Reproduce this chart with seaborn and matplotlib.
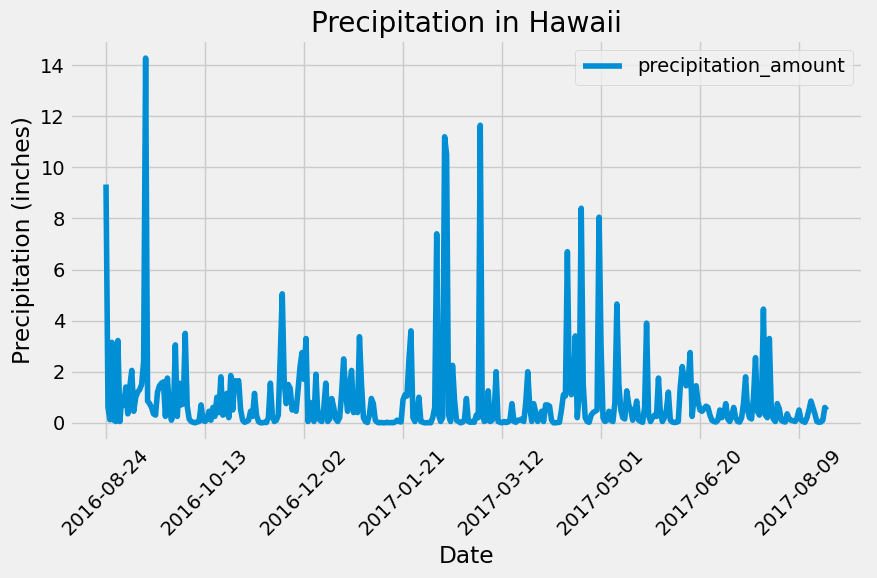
import numpy as np
import pandas as pd
import matplotlib
matplotlib.use("Agg")
import matplotlib.pyplot as plt
import seaborn as sns

plt.style.use("fivethirtyeight")

start_date = "2016-08-24"
series_name = "precipitation_amount"
precip = [
    9.33, 0.6, 0.12, 3.15, 0.1, 0.05, 3.22, 0.05, 1.0, 0.7,
    1.4, 0.35, 1.4, 2.05, 0.45, 1.0, 1.2, 1.3, 1.5, 2.4,
    14.28, 0.85, 0.75, 0.6, 0.35, 0.3, 1.2, 1.45, 1.55, 1.6,
    0.25, 1.75, 0.6, 0.1, 0.3, 3.05, 0.25, 1.55, 0.7, 0.75,
    3.5, 0.65, 0.15, 0.05, 0.02, 0.0, 0.03, 0.05, 0.7, 0.1,
    0.05, 0.15, 0.45, 0.1, 0.6, 0.25, 1.0, 0.4, 1.8, 0.3,
    0.35, 1.15, 0.2, 1.85, 0.5, 1.65, 1.6, 1.65, 0.5, 0.1,
    0.02, 0.05, 0.1, 0.45, 0.25, 1.15, 0.3, 0.05, 0.0, 0.0,
    0.02, 0.01, 0.2, 1.55, 0.3, 0.05, 0.1, 0.3, 2.6, 5.05,
    1.6, 0.75, 1.5, 1.35, 0.5, 0.75, 0.45, 1.3, 2.2, 2.75,
    1.7, 3.3, 0.05, 0.8, 0.4, 0.05, 1.9, 0.25, 0.1, 0.05,
    0.6, 1.55, 0.05, 0.15, 0.95, 0.6, 0.15, 0.05, 0.2, 1.2,
    2.5, 1.2, 0.45, 1.4, 2.05, 0.4, 0.75, 0.4, 3.37, 1.55,
    0.2, 0.05, 0.01, 0.3, 0.95, 0.75, 0.1, 0.02, 0.0, 0.01,
    0.0, 0.0, 0.02, 0.0, 0.01, 0.0, 0.03, 0.1, 0.05, 0.03,
    0.9, 1.1, 1.05, 2.5, 3.6, 0.2, 0.05, 0.4, 1.0, 0.05,
    0.02, 0.0, 0.0, 0.01, 0.0, 0.2, 0.6, 7.4, 0.3, 0.05,
    0.2, 11.2, 10.5, 0.3, 0.05, 2.25, 0.9, 0.1, 0.05, 0.0,
    0.02, 0.1, 0.95, 0.05, 0.02, 0.05, 0.02, 0.3, 0.2, 11.65,
    0.4, 0.05, 0.1, 1.25, 0.05, 0.1, 0.3, 2.0, 0.05, 0.02,
    0.0, 0.05, 0.01, 0.03, 0.1, 0.75, 0.05, 0.02, 0.1, 0.1,
    0.15, 0.05, 0.8, 2.0, 0.6, 0.05, 0.75, 0.4, 0.05, 0.2,
    0.45, 0.05, 0.7, 0.7, 0.65, 0.1, 0.0, 0.0, 0.01, 0.02,
    0.5, 1.1, 1.05, 6.7, 1.3, 1.1, 1.3, 3.4, 0.2, 1.2,
    8.4, 1.5, 0.2, 0.05, 0.02, 0.3, 0.4, 0.45, 0.5, 8.05,
    3.0, 0.2, 0.05, 0.1, 0.45, 0.1, 0.05, 0.8, 4.65, 1.5,
    0.5, 0.2, 0.15, 1.25, 0.7, 0.5, 0.1, 0.4, 0.85, 0.1,
    0.05, 0.02, 0.6, 3.9, 0.3, 0.05, 0.2, 0.3, 0.25, 1.75,
    0.35, 0.05, 0.2, 0.5, 1.2, 0.1, 0.03, 0.01, 0.02, 0.05,
    1.4, 2.2, 1.7, 1.45, 1.6, 2.75, 0.25, 1.0, 1.45, 0.8,
    0.5, 0.45, 0.55, 0.65, 0.6, 0.3, 0.1, 0.05, 0.03, 0.1,
    0.5, 0.2, 0.35, 0.75, 0.15, 0.05, 0.3, 0.6, 0.2, 0.05,
    0.03, 0.2, 0.8, 1.8, 0.5, 0.2, 0.15, 1.0, 2.55, 0.45,
    0.3, 0.55, 4.45, 0.3, 0.2, 3.3, 0.5, 0.15, 0.05, 0.75,
    0.55, 0.1, 0.05, 0.03, 0.35, 0.15, 0.1, 0.08, 0.05, 0.2,
    0.5, 0.1, 0.05, 0.02, 0.2, 0.5, 0.85, 0.6, 0.35, 0.05,
    0.02, 0.03, 0.1, 0.6, 0.5,
]
tick_step = 50

dates = pd.date_range(start_date, periods=len(precip)).strftime("%Y-%m-%d")
df = pd.DataFrame({"pos": np.arange(len(precip)), "date": dates, series_name: precip})

fig = plt.figure(figsize=(8.78, 5.78), dpi=100)
ax = fig.add_axes([0.0797, 0.237, 0.903, 0.694])
sns.lineplot(data=df, x="pos", y=series_name, ax=ax, label=series_name,
             color="#008fd5", linewidth=4)

ticks = df["pos"].iloc[::tick_step]
ax.set_xticks(ticks)
ax.set_xticklabels(df["date"].iloc[::tick_step], rotation=45, ha="center")
ax.set_title("Precipitation in Hawaii")
ax.set_xlabel("Date")
ax.set_ylabel("Precipitation (inches)")
ax.margins(x=0.05, y=0.05)
ax.legend(loc="upper right")

fig.savefig("out.png", dpi=100)
